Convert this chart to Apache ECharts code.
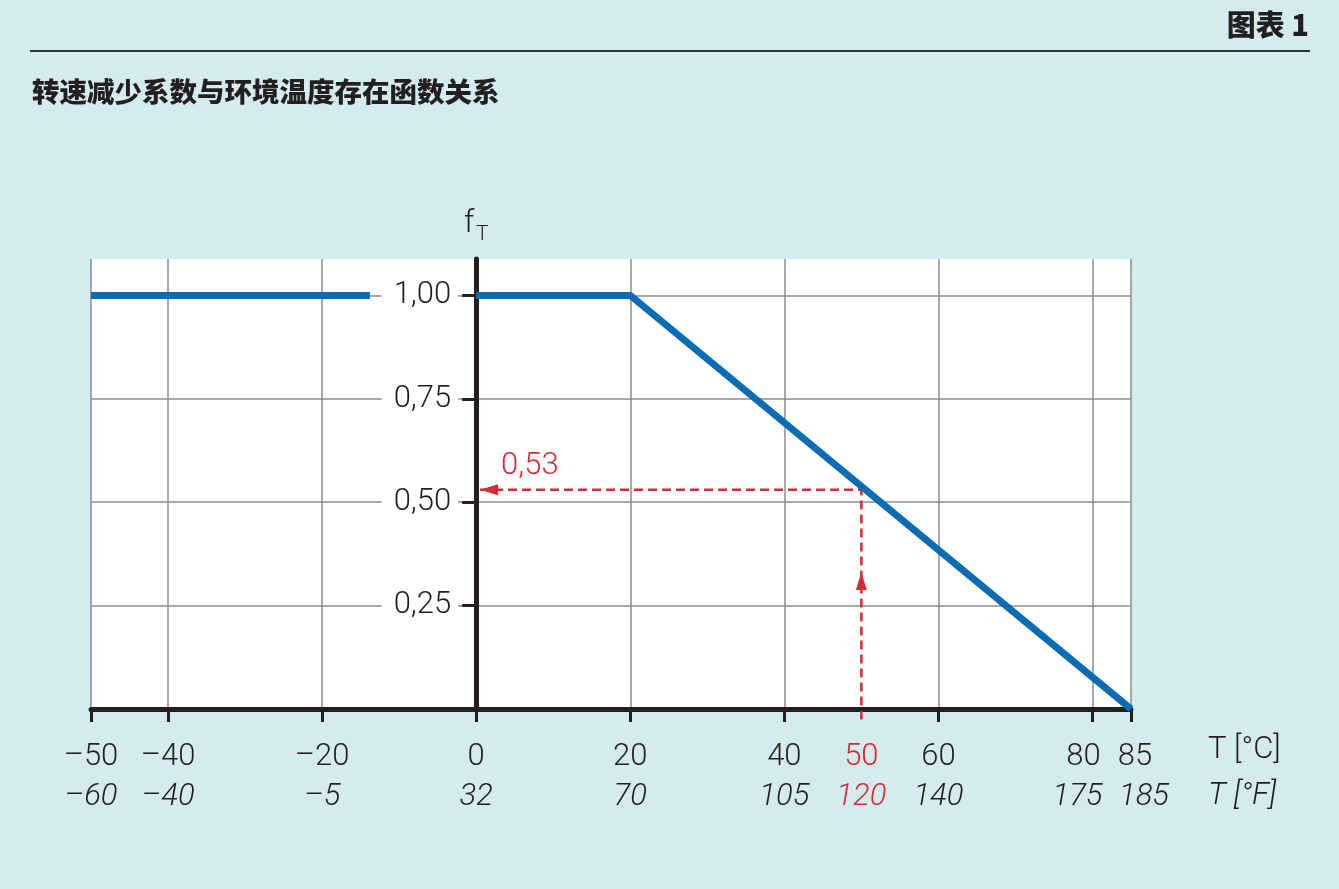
<!DOCTYPE html>
<html><head><meta charset="utf-8">
<script src="https://cdn.jsdelivr.net/npm/echarts@6/dist/echarts.min.js"></script>
<style>html,body{margin:0;padding:0;background:#d5ecef}#c{width:1339px;height:889px}</style>
</head><body><div id="c"></div>
<script>
// ---- data ----
const tempC = [-50, -40, -20, 0, 20, 40, 50, 60, 80, 85];
const tempF = ['–60', '–40', '–5', '32', '70', '105', '120', '140', '175', '185'];
const tickC = [-50, -40, -20, 0, 20, 40, 60, 80, 85];
const fTicks = [0.25, 0.5, 0.75, 1.0];
const curveLeft = [[-50, 1.0], [-13.8, 1.0]];
const curveMain = [[0, 1.0], [20, 1.0], [85, 0]];
const readT = 50, readF = 0.53;
const readLineStartT = 0.5, readArrowF = 0.331, readDropF = -0.032;
const highlightC = 50;
const xMin = -50, xMax = 85, yMax = 1.088;

const BLUE = '#0a6db3', RED = '#d52b33', INK = '#231f20', GRID = '#8c8c8c';
const FONT = 'Roboto, "Noto Sans", sans-serif';
const CJK = '"Noto Sans CJK SC", sans-serif';
const GRID_LEFT = 91, GRID_W = 1040;
const FS = 31;

const fmtC = v => (v < 0 ? '–' + Math.abs(v) : String(v));
const yAxisOffset = -((0 - xMin) / (xMax - xMin)) * GRID_W;
const mainLabelsC = tempC.filter(v => v !== xMax);

function labelFmt(v) {
  const i = tempC.indexOf(v);
  if (i < 0) return '';
  let c = 'c', f = 'f';
  if (v === highlightC) { c = 'cr'; f = 'fr'; }
  else if (v === 80) { c = 'cl'; f = 'fl'; }
  else if (v === xMax) { c = 'cR'; f = 'fR'; }
  return '{' + c + '|' + fmtC(v) + '}\n{' + f + '|' + tempF[i] + '}';
}
const base = {fontSize: FS, lineHeight: 40, color: INK, fontFamily: FONT, fontWeight: 300};
const ital = Object.assign({}, base, {fontStyle: 'italic'});
const rich = {
  c: base, f: ital,
  cr: Object.assign({}, base, {color: RED}), fr: Object.assign({}, ital, {color: RED}),
  cl: Object.assign({}, base, {padding: [0, 18, 0, 0]}), fl: Object.assign({}, ital, {padding: [0, 30, 0, 0]}),
  cR: Object.assign({}, base, {padding: [0, 0, 0, 8]}), fR: Object.assign({}, ital, {padding: [0, 0, 0, 26]})
};

const chart = echarts.init(document.getElementById('c'), null, {renderer: 'canvas'});
const option = {
  backgroundColor: '#d5ecef',
  animation: false,
  grid: {left: GRID_LEFT, top: 259, width: GRID_W, height: 450, show: true, backgroundColor: '#ffffff', borderWidth: 0,
         containLabel: false, outerBoundsMode: 'none'},
  xAxis: [{
    type: 'value', min: xMin, max: xMax, interval: 5, position: 'bottom',
    axisLine: {onZero: false, lineStyle: {color: INK, width: 5}},
    axisTick: {show: true, length: 13, customValues: tickC, lineStyle: {color: INK, width: 3}},
    splitLine: {show: true, lineStyle: {color: GRID, width: 1.5}},
    axisLabel: {show: true, customValues: mainLabelsC, margin: 28, hideOverlap: false,
                formatter: labelFmt, rich: rich}
  }, {
    type: 'value', min: xMin, max: xMax, interval: 5, position: 'bottom',
    axisLine: {show: false}, axisTick: {show: false}, splitLine: {show: false},
    axisLabel: {show: true, customValues: [xMax], margin: 28, showMaxLabel: true, hideOverlap: false,
                formatter: labelFmt, rich: rich}
  }],
  yAxis: {
    type: 'value', min: 0, max: yMax, interval: 0.25, position: 'left', offset: yAxisOffset,
    axisLine: {show: true, onZero: false, lineStyle: {color: INK, width: 5}},
    axisTick: {show: true, length: 14, customValues: fTicks, lineStyle: {color: INK, width: 3}},
    splitLine: {show: true, lineStyle: {color: GRID, width: 1.5}},
    axisLabel: {
      show: true, customValues: fTicks, margin: 18, showMinLabel: true, showMaxLabel: true,
      formatter: v => v.toFixed(2).replace('.', ','),
      fontSize: FS, color: INK, fontFamily: FONT, fontWeight: 300,
      backgroundColor: '#ffffff', padding: [2, 7, 2, 12]
    }
  },
  series: [
    {type: 'line', data: curveLeft, symbol: 'none', z: 4,
     lineStyle: {color: BLUE, width: 7, cap: 'butt'}},
    {type: 'line', data: curveMain, symbol: 'none', z: 4,
     lineStyle: {color: BLUE, width: 7, join: 'miter', cap: 'butt'}},
    {type: 'line', z: 3, clip: false, symbol: 'none',
     lineStyle: {color: RED, width: 2.5, type: [9, 5]},
     itemStyle: {color: RED},
     data: [
       {value: [readLineStartT, readF], symbol: 'triangle', symbolSize: [11, 18], symbolRotate: 90, symbolOffset: [9, 0]},
       {value: [readT, readF], symbol: 'none'},
       {value: [readT, readArrowF], symbol: 'triangle', symbolSize: [11, 18], symbolRotate: 0, symbolOffset: [0, 9]},
       {value: [readT, readDropF], symbol: 'none'}
     ]}
  ],
  graphic: [
    {type: 'line', shape: {x1: 30, y1: 51, x2: 1310, y2: 51}, style: {stroke: '#2b3436', lineWidth: 2}},
    {type: 'text', x: 1309, y: 25, style: {text: '图表 1', font: '900 29px ' + CJK, fill: '#231f20', textAlign: 'right', textVerticalAlign: 'middle'}},
    {type: 'text', x: 32, y: 92, style: {text: '转速减少系数与环境温度存在函数关系', font: '900 27.5px ' + CJK, fill: '#231f20', textAlign: 'left', textVerticalAlign: 'middle'}},
    {type: 'text', x: 464, y: 224, style: {text: 'f', font: '300 31px ' + FONT, fill: INK, textAlign: 'left', textVerticalAlign: 'middle'}},
    {type: 'text', x: 476, y: 235, style: {text: 'T', font: '300 21px ' + FONT, fill: INK, textAlign: 'left', textVerticalAlign: 'middle'}},
    {type: 'text', x: 1208, y: 750, style: {text: 'T [°C]', font: '300 31px ' + FONT, fill: INK, textAlign: 'left', textVerticalAlign: 'middle'}},
    {type: 'text', x: 1208, y: 796, style: {text: 'T [°F]', font: 'italic 300 31px ' + FONT, fill: INK, textAlign: 'left', textVerticalAlign: 'middle'}}
  ]
};
chart.setOption(option);
const p = chart.convertToPixel({gridIndex: 0}, [readLineStartT, readF]);
chart.setOption({graphic: option.graphic.concat([
  {type: 'text', x: p[0] + 21, y: p[1] - 8, style: {text: readF.toFixed(2).replace('.', ','), font: '300 31px ' + FONT, fill: RED, textAlign: 'left', textVerticalAlign: 'bottom'}}
])});
</script>
</body></html>
